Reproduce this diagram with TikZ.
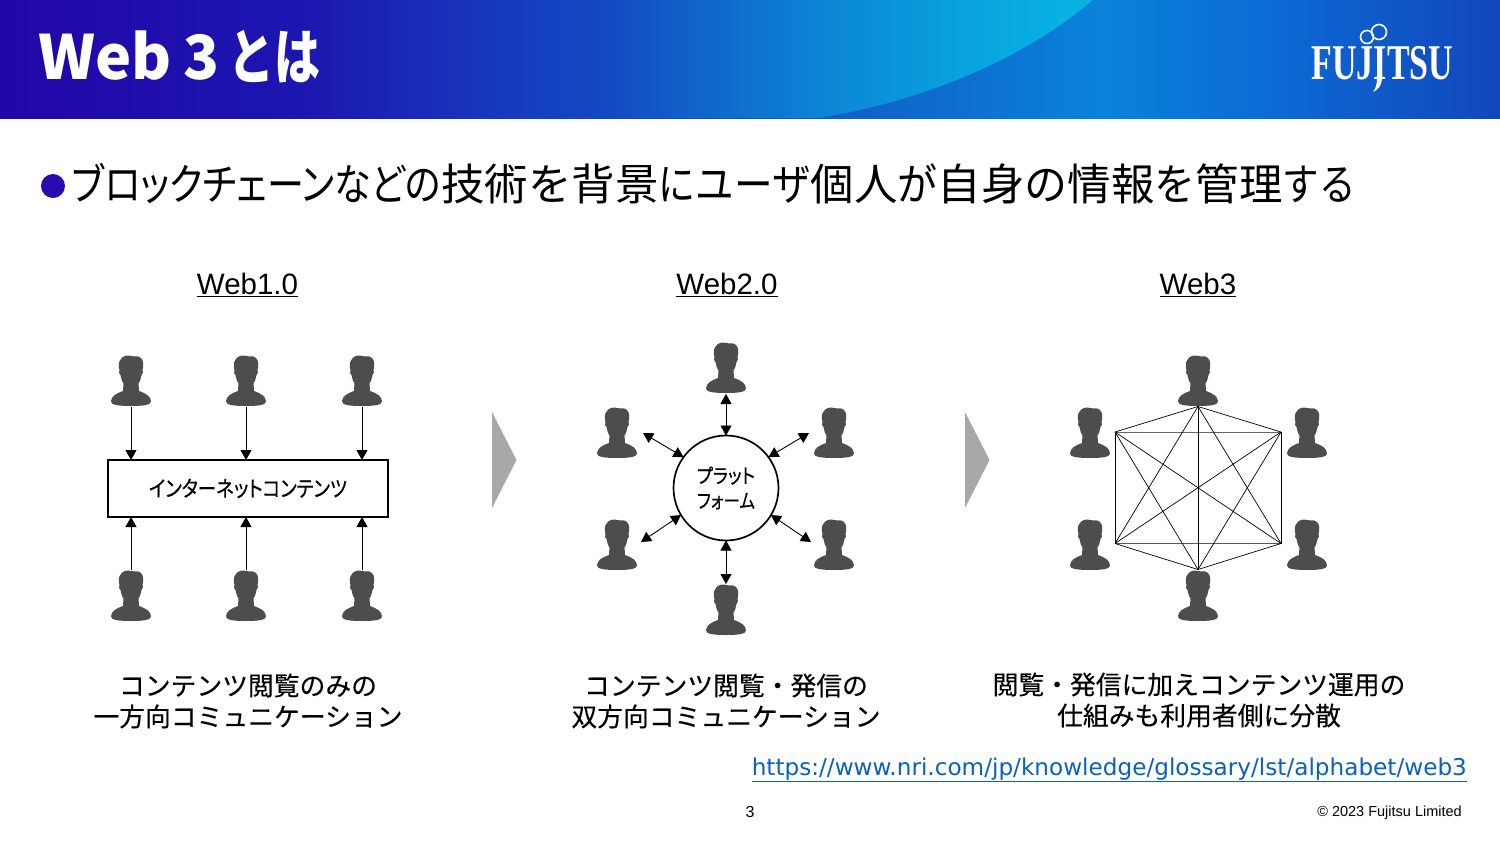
\documentclass[tikz,border=0pt]{standalone}
\usepackage{fontspec}
\usetikzlibrary{arrows.meta,fadings,calc}
\setmainfont{Liberation Sans}
\newfontfamily\jp{Noto Sans CJK JP}
\newfontfamily\jpp[RawFeature=+palt]{Noto Sans CJK JP}
\newfontfamily\jpm[RawFeature=+palt,FakeBold=0.5]{Noto Sans CJK JP}
\newfontfamily\jpc[FakeBold=0.25]{Noto Sans CJK JP}
\newfontfamily\lnk{DejaVu Sans}
\newfontfamily\lgo{Liberation Serif}
\newcommand{\fitw}[2]{\resizebox{#1pt}{\height}{#2}}
\definecolor{hA}{HTML}{2206A8}
\definecolor{hB}{HTML}{1C16B0}
\definecolor{hC}{HTML}{1542C0}
\definecolor{hD}{HTML}{1060C8}
\definecolor{hE}{HTML}{0A82DA}
\definecolor{hF}{HTML}{0B6ED6}
\definecolor{hG}{HTML}{1246BD}
\definecolor{swoosh}{HTML}{08B4E4}
\definecolor{personfill}{HTML}{4D4D4D}
\definecolor{bulletblue}{HTML}{2A0AAF}
\definecolor{linkblue}{HTML}{0A62BA}
\definecolor{chev}{HTML}{A8A8A8}
\pgfdeclarehorizontalshading{headershade}{100bp}{
 color(0bp)=(hA); color(25bp)=(hA); color(35bp)=(hB); color(43.33bp)=(hC); color(53.33bp)=(hD);
 color(61.67bp)=(hE); color(66.67bp)=(hF); color(75bp)=(hG); color(100bp)=(hG)}
\tikzfading[name=swooshfade,left color=transparent!100,middle color=transparent!88,right color=transparent!0]
\tikzset{
 personicon/.style={rectangle,draw=none,inner sep=0pt,outer sep=0pt,minimum width=44pt,minimum height=52pt,
  path picture={\begin{scope}[shift={(path picture bounding box.center)}]
   \fill[personfill] (-20,20) .. controls (-21,24) and (-12,25) .. (0,25) .. controls (12,25) and (21,24) .. (20,20)
    .. controls (19,15) and (16,13) .. (8,10) -- (7.5,2) .. controls (9,1) and (10,-3) .. (10.5,-6)
    .. controls (12,-7) and (12.5,-10) .. (11.5,-11) .. controls (12.5,-15) and (13,-20) .. (10,-23)
    .. controls (7,-26) and (3,-24) .. (0,-25) .. controls (-3,-26) and (-8,-25.5) .. (-10,-22)
    .. controls (-13,-19) and (-12.5,-14) .. (-11.5,-11) .. controls (-12.5,-9) and (-12,-7) .. (-10.5,-6)
    .. controls (-10,-3) and (-9,1) .. (-7.5,2) -- (-8,10) .. controls (-16,13) and (-19,15) .. (-20,20) -- cycle;
  \end{scope}}},
 conn/.style={draw=black,line width=0.9pt},
 oneway/.style={conn,-{Triangle[length=10pt,width=11pt]}},
 twoway/.style={conn,{Triangle[length=10pt,width=11pt]}-{Triangle[length=10pt,width=11pt]}},
 mesh/.style={draw=black,line width=0.7pt},
 heading/.style={inner sep=0pt,font=\fontsize{29.5}{29.5}\selectfont},
 caption/.style={inner sep=0pt,align=center,font=\jpc\fontsize{25.8}{31}\selectfont},
 chevron/.style={fill=chev,draw=none},
}
\begin{document}
\begin{tikzpicture}[x=1pt,y=-1pt]
\useasboundingbox (0,0) rectangle (1500,844);
\fill[white] (0,0) rectangle (1500,844);
% header
\shade[shading=headershade] (0,0) rectangle (1500,118);
\fill[swoosh,path fading=swooshfade] (600,0) -- (1093,0) .. controls (1030,55) and (930,100) .. (820,118) -- (600,118) -- cycle;
\node[anchor=west,inner sep=0pt,text=white] (title) at (38,57) {\jp\bfseries\fontsize{61}{61}\selectfont Web\hspace{12pt}\fitw{36}{3}\hspace{9pt}\fitw{92}{とは}};
% logo
\node[inner sep=0pt,text=white,xscale=.68] (logo) at (1382.5,63) {\lgo\bfseries\fontsize{50}{50}\selectfont FUJITSU};
\draw[white,line width=1.6pt] (1367,37) circle[radius=6.5];
\draw[white,line width=1.6pt] (1379,32) circle[radius=7.5];
\fill[white] (1377,78) -- (1382,78) .. controls (1382,85) and (1378,90) .. (1373,92) .. controls (1376,88) and (1377,84) .. (1377,78) -- cycle;
% bullet
\node[circle,fill=bulletblue,inner sep=0pt,minimum size=24pt] (bullet) at (53,186) {};
\node[anchor=west,inner sep=0pt] (lead) at (72,184) {\fontsize{43.5}{44}\selectfont\jp
 \fitw{369}{\jpp ブロックチェーンなどの}\fitw{87}{技術}\fitw{43.5}{を}\fitw{87}{背景}\fitw{37}{に}\fitw{115}{ユーザ}\fitw{87}{個人}\fitw{40}{が}\fitw{87}{自身}\fitw{43}{の}\fitw{87}{情報}\fitw{41}{を}\fitw{87}{管理}\fitw{73}{する}};
% headings
\node[heading] (h1) at (247.5,285) {\underline{Web1.0}};
\node[heading] (h2) at (727,285) {\underline{Web2.0}};
\node[heading] (h3) at (1198,285) {\underline{Web3}};
% Web1.0
\node[draw=black,line width=1.3pt,minimum width=280pt,minimum height=57pt,inner sep=0pt,outer sep=0pt,fill=white] (inet) at (248,488.5) {\jpm\fontsize{22}{22}\selectfont\fitw{198}{インターネットコンテンツ}};
\foreach \n/\cx in {a/131,b/246,c/362}{
 \node[personicon] (\n t) at (\cx,381) {};
 \node[personicon] (\n b) at (\cx,596) {};
 \draw[oneway] (\n t.south) -- (\n t.south |- inet.north);
 \draw[oneway] (\n b.north) -- (\n b.north |- inet.south);
}
% Web2.0
\node[circle,draw=black,line width=1.7pt,minimum size=105pt,inner sep=0pt,outer sep=0pt,align=center,font=\jpm\fontsize{20}{25}\selectfont] (plat) at (726,488) {\fitw{58}{プラット}\\\fitw{58}{フォーム}};
\node[personicon] (p1) at (726,368) {};
\node[personicon] (p2) at (726,610) {};
\node[personicon] (p3) at (617,433) {};
\node[personicon] (p4) at (834,433) {};
\node[personicon] (p5) at (617,545) {};
\node[personicon] (p6) at (834,545) {};
\coordinate (e3) at (643,433);
\coordinate (e4) at (809,433);
\coordinate (e5) at (641,542);
\coordinate (e6) at (811,542);
\draw[twoway] (p1.south) -- (plat.north);
\draw[twoway] (p2.north) -- (plat.south);
\draw[twoway] (e3) -- (plat.144);
\draw[twoway] (e4) -- (plat.36);
\draw[twoway] (e5) -- (plat.211);
\draw[twoway] (e6) -- (plat.329);
% Web3
\node[personicon] (q1) at (1198,381) {};
\node[personicon] (q2) at (1198,596) {};
\node[personicon] (q3) at (1090,433) {};
\node[personicon] (q4) at (1307,433) {};
\node[personicon] (q5) at (1090,545) {};
\node[personicon] (q6) at (1307,545) {};
\coordinate (nT) at (1198,406.5);
\coordinate (nB) at (1198,569.5);
\coordinate (nTL) at (1115,432);
\coordinate (nTR) at (1281,432);
\coordinate (nBL) at (1115,543.5);
\coordinate (nBR) at (1281,543.5);
\draw[mesh,draw=black!60] (nTL) -- (nTR);
\draw[mesh,draw=black!65,line width=1.4pt] (nBL) -- (nBR);
\draw[mesh,line width=0.9pt] (nTL) -- (nBL);
\draw[mesh,line width=0.9pt] (nTR) -- (nBR);
\draw[mesh] (nT) -- (nTL);
\draw[mesh] (nT) -- (nTR);
\draw[mesh] (nB) -- (nBL);
\draw[mesh] (nB) -- (nBR);
\draw[mesh,line width=1pt] (nT) -- (nB);
\draw[mesh] (nTL) -- (nBR);
\draw[mesh] (nTR) -- (nBL);
\draw[mesh] (nT) -- (nBL);
\draw[mesh] (nT) -- (nBR);
\draw[mesh] (nB) -- (nTL);
\draw[mesh] (nB) -- (nTR);
% chevrons
\fill[chevron] (492,412) -- (516.5,460) -- (492,508) -- cycle;
\fill[chevron] (965,412) -- (989.5,460) -- (965,508) -- cycle;
% captions
\node[caption] (c1) at (248,701) {コンテンツ閲覧のみの\\一方向コミュニケーション};
\node[caption] (c2) at (726,701) {コンテンツ閲覧・発信の\\双方向コミュニケーション};
\node[caption] (c3) at (1199,700) {閲覧・発信に加えコンテンツ運用の\\仕組みも利用者側に分散};
% footer
\node[anchor=east,inner sep=0pt,text=linkblue] (link) at (1467,770) {\lnk\fontsize{23.15}{24}\selectfont\underline{https://www.nri.com/jp/knowledge/glossary/lst/alphabet/web3}};
\node[inner sep=0pt] (pageno) at (750,812) {\fontsize{16}{16}\selectfont 3};
\node[anchor=east,inner sep=0pt] (copy) at (1462,813) {\fontsize{14.5}{14.5}\selectfont © 2023 Fujitsu Limited};
\end{tikzpicture}
\end{document}
